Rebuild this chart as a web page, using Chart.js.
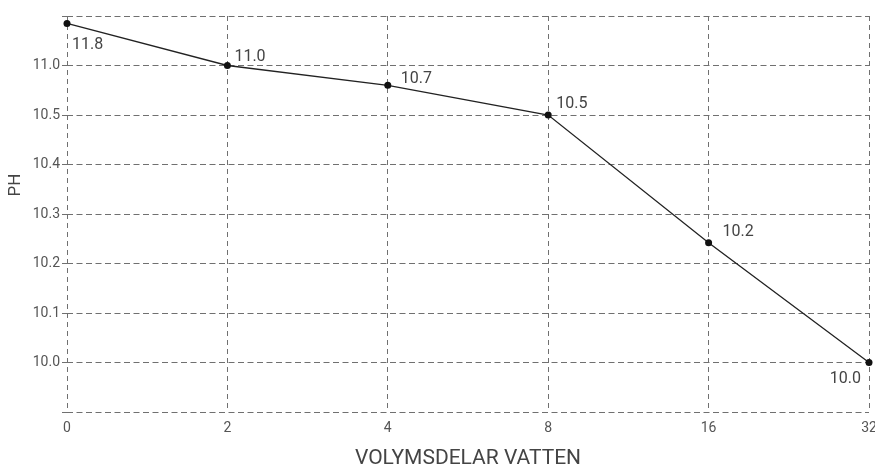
<!DOCTYPE html>
<html>
<head>
<meta charset="utf-8">
<script src="https://cdn.jsdelivr.net/npm/chart.js@4.4.1/dist/chart.umd.min.js"></script>
<style>
  html, body { margin: 0; padding: 0; background: #fff; }
  #wrap { width: 875px; height: 468px; position: relative; }
</style>
</head>
<body>
<div id="wrap"><canvas id="c"></canvas></div>
<script>
// Categories on the x axis (parts of water by volume)
const categories = ['0', '2', '4', '8', '16', '32'];
// pH value printed beside each point
const phLabels = ['11.8', '11.0', '10.7', '10.5', '10.2', '10.0'];
// Point position on the (non-linear) pH axis, in tick-step units (0 = 10.0, 6 = 11.0)
const phPositions = [6.85, 6, 5.6, 5, 2.42, 0];
// Y tick labels for tick-step positions -1 .. 7
const yTickValues = [-1, 0, 1, 2, 3, 4, 5, 6, 7];
const yTickLabels = ['', '10.0', '10.1', '10.2', '10.3', '10.4', '10.5', '11.0', ''];

const FONT = 'Roboto, "Liberation Sans", sans-serif';
const GRID = '#707070';

const labelPlugin = {
  id: 'pointLabels',
  afterDatasetsDraw(chart) {
    const ctx = chart.ctx;
    const meta = chart.getDatasetMeta(0);
    // placement of each point label relative to its point: [dx, dy, align]
    const place = [[5, 22, 'left'], [7, -9, 'left'], [13, -6, 'left'], [8, -11, 'left'], [14, -11, 'left'], [-8, 16, 'right']];
    ctx.save();
    ctx.font = '16px ' + FONT;
    ctx.fillStyle = '#444';
    ctx.textBaseline = 'middle';
    meta.data.forEach((pt, i) => {
      const p = place[i];
      ctx.textAlign = p[2];
      ctx.fillText(phLabels[i], pt.x + p[0], pt.y + p[1]);
    });
    // axis titles
    ctx.fillStyle = '#444';
    ctx.font = '21px ' + FONT;
    ctx.textAlign = 'center';
    ctx.fillText('VOLYMSDELAR VATTEN', (chart.chartArea.left + chart.chartArea.right) / 2, 459);
    ctx.save();
    ctx.translate(16, 185);
    ctx.rotate(-Math.PI / 2);
    ctx.font = '17px ' + FONT;
    ctx.fillText('PH', 0, 0);
    ctx.restore();
    ctx.restore();
  }
};

new Chart(document.getElementById('c'), {
  type: 'line',
  data: {
    labels: categories,
    datasets: [{
      data: phPositions,
      borderColor: '#222',
      borderWidth: 1.3,
      pointRadius: 3.5,
      pointBackgroundColor: '#111',
      pointBorderColor: '#111',
      pointBorderWidth: 0,
      tension: 0,
      clip: false
    }]
  },
  plugins: [labelPlugin],
  options: {
    responsive: true,
    maintainAspectRatio: false,
    animation: false,
    layout: { padding: { top: 16, right: 6, left: 0, bottom: 0 } },
    plugins: { legend: { display: false }, tooltip: { enabled: false } },
    scales: {
      x: {
        type: 'category',
        offset: false,
        afterFit(s) { s.height = 56; s.paddingLeft = 0; s.paddingRight = 0; },
        grid: { color: GRID, lineWidth: 1, drawTicks: false },
        border: { display: false, dash: [5, 4] },
        ticks: { color: '#555', font: { family: FONT, size: 14 }, padding: 8, maxRotation: 0 }
      },
      y: {
        type: 'linear',
        min: -1,
        max: 7,
        afterFit(s) { s.width = 67; s.paddingTop = 0; s.paddingBottom = 0; },
        afterBuildTicks(s) { s.ticks = yTickValues.map(v => ({ value: v })); },
        grid: { color: GRID, lineWidth: 1, tickLength: 5, tickBorderDash: [5, 4], tickColor: GRID },
        border: { display: false, dash: [6, 3.5] },
        ticks: {
          color: '#555',
          font: { family: FONT, size: 14 },
          padding: 2,
          callback(v) { const i = yTickValues.indexOf(v); return i >= 0 ? yTickLabels[i] : ''; }
        }
      }
    }
  }
});
</script>
</body>
</html>
